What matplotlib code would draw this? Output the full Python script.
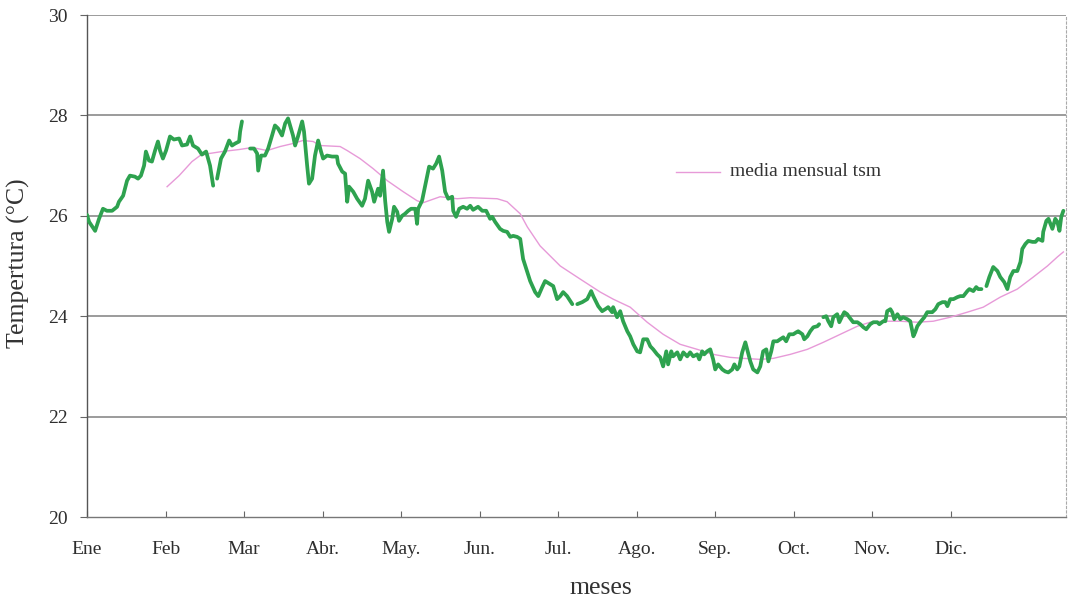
import numpy as np
import matplotlib
matplotlib.use("Agg")
import matplotlib.pyplot as plt

plt.rcParams['font.family'] = ['Liberation Serif', 'DejaVu Serif']

# Daily SST (green), NaN marks gaps in the record
dia = [0, 0.8, 3.1, 4.6, 6.1, 7.6, 9.6, 11.5, 12.2, 13.8, 15.3, 16.4, 18.3, 19.5, 20.6, 21.8, 22.5, 23.7,
       24.8, 26.0, 27.1, 27.9, 29.0, 30.2, 31.7, 33.2, 35.2, 36.3, 38.2, 39.4, 40.5, 42.4, 43.9, 45.5, 47.0, 48.2,
       48.9,
       49.7, 51.2, 52.7, 54.3, 55.4, 56.6, 58.1, 58.5, 59.2,
       60.5,
       62.3, 63.8, 65.0, 65.4, 66.5, 68.0, 69.2, 70.7, 71.8, 73.0, 74.5, 75.7, 76.8, 77.6, 78.7, 79.5, 80.6,
       82.2, 82.9, 84.1, 84.8, 86.0, 87.1, 88.3, 89.4, 90.2, 91.7, 93.6, 95.5, 95.9, 97.5, 98.6, 99.4, 100.1,
       101.7, 103.2, 105.1, 106.2, 107.4, 108.9, 109.7, 111.2, 112.0, 113.1, 113.9, 114.7, 115.4, 116.6, 117.3,
       118.5, 119.2, 120.4, 121.5, 122.7, 123.8, 125.4, 126.1, 126.5, 128.0, 129.2, 130.3, 130.7, 132.2, 133.4,
       134.5, 135.7, 136.8, 138.0, 139.5, 139.9, 141.0, 142.2, 143.7, 145.2, 146.4, 147.5, 149.4, 151.0, 152.5,
       154.0, 154.8, 155.9, 157.8, 159.0, 160.5, 161.7, 162.8, 164.3, 165.5, 166.6, 168.2, 169.3, 171.2, 172.4,
       173.9, 175.0, 176.9, 178.1, 179.6, 180.8, 181.9, 183.4, 185.4,
       186.3,
       187.3, 189.2, 191.1, 192.6, 193.4, 194.9, 195.3, 196.8, 198.0, 199.1, 200.6, 201.0, 202.5, 203.7, 204.8,
       206.4, 207.5, 208.7, 210.2, 211.3, 212.5, 214.0, 215.2, 216.3, 217.8, 219.0, 220.1, 221.3, 222.0, 223.2,
       223.9, 225.5, 226.6, 227.8, 229.3, 230.4, 231.6, 233.1, 233.9, 235.0, 235.8, 236.9, 238.1, 239.2, 240.0,
       241.1, 242.7, 243.8, 245.0, 246.5, 247.3, 248.4, 249.2, 250.3, 251.5, 252.2, 253.4, 254.5, 256.1, 257.2,
       258.3, 259.5, 260.3, 261.4, 262.2, 263.7, 264.8, 266.0, 267.1, 268.3, 269.8, 271.0, 271.7, 273.3, 274.0,
       275.2, 276.3, 277.5, 279.0, 279.7,
       280.5,
       281.3, 282.4, 283.2, 284.3, 285.1, 286.6, 287.4, 288.5, 289.3, 290.4, 291.2, 292.7, 294.3, 295.4, 296.6,
       297.7, 299.2, 300.4, 301.9, 302.7, 304.2, 305.0, 305.7, 306.9, 307.6, 308.4, 309.6, 310.7, 311.8, 313.4,
       314.5, 315.7, 316.4, 317.2, 318.3, 319.9, 321.0, 322.9, 324.1, 325.2, 326.8, 327.9, 328.7, 329.8, 331.0,
       332.5, 333.6, 334.8, 336.3, 337.1, 338.6, 339.7, 340.5, 341.7,
       342.6,
       343.6, 344.7, 346.2, 347.8, 348.9, 350.4, 351.6, 352.7, 353.9, 355.4, 356.6, 357.3, 358.5, 359.6, 361.2,
       362.3, 363.4, 365.0, 365.3, 366.5, 367.3, 368.8, 369.9, 370.7, 371.5, 372.2, 373.0]

tsm = [26.02, 25.88, 25.70, 25.94, 26.14, 26.10, 26.10, 26.18, 26.28, 26.40, 26.70, 26.80, 26.78, 26.74, 26.80,
       27.00, 27.28, 27.10, 27.08, 27.30, 27.48, 27.30, 27.14, 27.30, 27.58, 27.52, 27.54, 27.40, 27.42, 27.58,
       27.40, 27.34, 27.22, 27.28, 27.00, 26.60,
       np.nan,
       26.74, 27.14, 27.28, 27.50, 27.40, 27.44, 27.48, 27.68, 27.88,
       np.nan,
       27.34, 27.34, 27.24, 26.90, 27.20, 27.20, 27.34, 27.60, 27.80, 27.74, 27.60, 27.84, 27.94, 27.80, 27.60,
       27.40, 27.58, 27.88, 27.68, 27.00, 26.64, 26.74, 27.20, 27.50, 27.28, 27.14, 27.20, 27.18, 27.18, 27.04,
       26.88, 26.84, 26.28, 26.58, 26.48, 26.34, 26.20, 26.34, 26.70, 26.48, 26.28, 26.54, 26.40, 26.90, 26.30,
       25.88, 25.68, 25.94, 26.18, 26.08, 25.90, 26.00, 26.04, 26.10, 26.14, 26.14, 25.84, 26.14, 26.30, 26.60,
       26.88, 26.98, 26.94, 27.04, 27.18, 26.90, 26.48, 26.34, 26.38, 26.10, 25.98, 26.14, 26.18, 26.14, 26.20,
       26.12, 26.18, 26.10, 26.10, 25.94, 25.98, 25.88, 25.74, 25.70, 25.68, 25.58, 25.60, 25.58, 25.54, 25.14,
       24.88, 24.70, 24.48, 24.40, 24.58, 24.70, 24.64, 24.60, 24.34, 24.40, 24.48, 24.40, 24.24,
       np.nan,
       24.24, 24.28, 24.34, 24.50, 24.40, 24.24, 24.20, 24.10, 24.14, 24.18, 24.08, 24.18, 23.98, 24.10, 23.90,
       23.70, 23.60, 23.44, 23.30, 23.28, 23.54, 23.54, 23.40, 23.34, 23.24, 23.18, 23.00, 23.30, 23.04, 23.30,
       23.20, 23.28, 23.14, 23.28, 23.20, 23.28, 23.20, 23.24, 23.14, 23.30, 23.24, 23.30, 23.34, 23.14, 22.94,
       23.04, 22.94, 22.90, 22.88, 22.94, 23.04, 22.94, 23.00, 23.28, 23.48, 23.34, 23.10, 22.94, 22.88, 23.00,
       23.30, 23.34, 23.10, 23.30, 23.50, 23.50, 23.54, 23.58, 23.50, 23.64, 23.64, 23.68, 23.70, 23.64, 23.54,
       23.60, 23.70, 23.78, 23.80, 23.84,
       np.nan,
       23.98, 24.00, 23.90, 23.80, 23.98, 24.04, 23.88, 24.00, 24.08, 24.04, 23.98, 23.88, 23.88, 23.84, 23.78,
       23.74, 23.84, 23.88, 23.88, 23.84, 23.90, 23.90, 24.10, 24.14, 24.08, 23.94, 24.04, 23.94, 23.98, 23.94,
       23.90, 23.60, 23.68, 23.80, 23.88, 23.98, 24.08, 24.08, 24.14, 24.24, 24.28, 24.28, 24.20, 24.34, 24.34,
       24.38, 24.40, 24.40, 24.50, 24.54, 24.50, 24.58, 24.54, 24.54,
       np.nan,
       24.60, 24.78, 24.98, 24.90, 24.78, 24.68, 24.54, 24.78, 24.90, 24.90, 25.08, 25.34, 25.44, 25.50, 25.48,
       25.48, 25.54, 25.50, 25.68, 25.90, 25.94, 25.74, 25.94, 25.88, 25.70, 25.98, 26.10]

# Monthly mean SST (pink)
dia_media = [30.6, 35.2, 40.1, 43.2, 46.6, 51.6, 58.1, 63.1, 68.8, 73.8, 78.7, 82.5, 86.4, 89.0, 96.7, 99.4,
             104.3, 109.3, 114.7, 120.8, 126.1, 128.4, 134.9, 141.4, 146.4, 156.7, 160.5, 165.5, 168.2, 173.1,
             180.8, 188.4, 196.1, 201.0, 207.5, 214.0, 220.1, 226.6, 233.1, 239.2, 245.7, 250.7, 257.2, 262.2,
             268.7, 275.2, 281.3, 287.8, 294.3, 299.2, 304.2, 310.7, 317.2, 323.3, 329.8, 336.3, 342.4, 348.9,
             355.4, 361.5, 366.9, 370.7, 373.0]
media = [26.58, 26.80, 27.08, 27.20, 27.24, 27.28, 27.32, 27.36, 27.30, 27.38, 27.44, 27.50, 27.48, 27.40,
         27.38, 27.30, 27.14, 26.94, 26.70, 26.48, 26.30, 26.26, 26.38, 26.34, 26.36, 26.34, 26.28, 26.04, 25.78,
         25.40, 25.00, 24.74, 24.48, 24.34, 24.18, 23.88, 23.64, 23.44, 23.34, 23.24, 23.18, 23.16, 23.14, 23.16,
         23.24, 23.34, 23.48, 23.64, 23.80, 23.88, 23.90, 23.90, 23.88, 23.90, 23.98, 24.08, 24.18, 24.38, 24.54,
         24.78, 25.00, 25.18, 25.28]

meses = ['Ene', 'Feb', 'Mar', 'Abr.', 'May.', 'Jun.', 'Jul.', 'Ago.', 'Sep.', 'Oct.', 'Nov.', 'Dic.']
pos_meses = [0, 30, 60, 90, 120, 150, 180, 210, 240, 270, 300, 330]
yticks = [20, 22, 24, 26, 28, 30]

fig = plt.figure(figsize=(10.75, 6.03), dpi=100)
ax = fig.add_axes([87/1075, (603-517)/603, (1066-87)/1075, (517-15)/603])

ax.set_xlim(0, 374)
ax.set_ylim(20, 30)

for y in yticks[1:]:
    ax.axhline(y, color='#8a8a8a', lw=1.2, zorder=1)

ax.plot(dia_media, media, color='#e79ad8', lw=1.0, zorder=2)
ax.plot(dia, tsm, color='#2ea24f', lw=2.7, zorder=3, solid_joinstyle='round', solid_capstyle='round')

ax.set_xticks(pos_meses)
ax.set_xticklabels(meses)
ax.set_yticks(yticks)
ax.tick_params(axis='x', direction='in', length=4, width=0.8, color='#666666', pad=17, labelsize=14,
               labelcolor='#2e2e2e')
ax.tick_params(axis='y', direction='out', length=5, width=0.8, color='#666666', pad=9, labelsize=14,
               labelcolor='#2e2e2e')

ax.spines['top'].set_visible(False)
ax.spines['left'].set_color('#555555')
ax.spines['left'].set_linewidth(1.0)
ax.spines['bottom'].set_color('#777777')
ax.spines['bottom'].set_linewidth(1.0)
ax.spines['right'].set_color('#aaaaaa')
ax.spines['right'].set_linestyle((0, (2, 2)))
ax.spines['right'].set_linewidth(0.8)

# legend-like annotation
ax.plot([225, 242], [26.88, 26.88], color='#e79ad8', lw=1.0)
ax.text(245.5, 26.88, 'media mensual tsm', fontsize=14, color='#333333', va='center', ha='left')

fig.text(601/1075, 1 - 588/603, 'meses', fontsize=18.5, color='#333333', ha='center', va='center')
fig.text(18/1075, 1 - 263/603, 'Tempertura (°C)', fontsize=18.5, color='#333333', ha='center', va='center',
         rotation=90)

fig.savefig('out.png', dpi=100, facecolor='white')
